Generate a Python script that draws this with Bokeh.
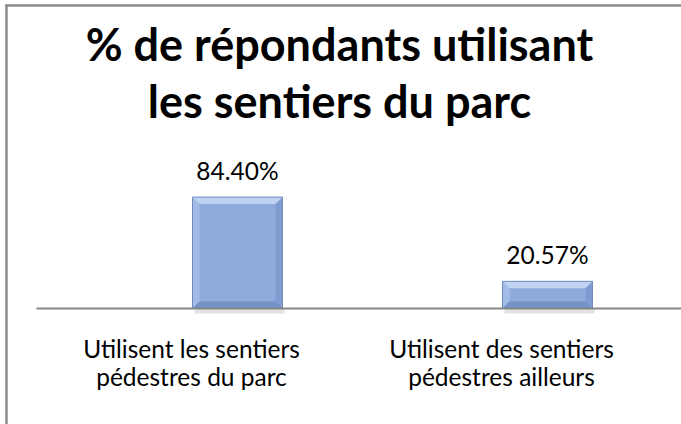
from bokeh.plotting import figure
from bokeh.models import Range1d, ColumnDataSource
from bokeh.core.properties import value
from bokeh.embed import file_html
from bokeh.resources import INLINE

# ---- data ----
title_lines = ["% de répondants utilisant", "les sentiers du parc"]
cat_line1 = ["Utilisent les sentiers", "Utilisent des sentiers"]
cat_line2 = ["pédestres du parc", "pédestres ailleurs"]
values = [84.40, 20.57]
value_labels = ["84.40%", "20.57%"]

# ---- layout (pixels) ----
W, H = 681, 424
PX_X = 310.0      # pixels per category step
PX_Y = 1.32       # pixels per percentage point
BASE_PX = 308     # baseline position from top (px)
X0_PX = 237       # first category centre from left (px)
BAR_W = 90 / PX_X
FONT = "Lato"
LBL_SIZE = 24.5
TITLE_SIZE = 45
SHIFT = 0.43      # baseline compensation (em)

x_start = -X0_PX / PX_X
x_end = x_start + W / PX_X
y_end = BASE_PX / PX_Y
y_start = -(H - BASE_PX) / PX_Y


def dx(px):
    return x_start + px / PX_X


def dy(py):
    return (BASE_PX - py) / PX_Y


p = figure(width=W, height=H, x_range=Range1d(x_start, x_end),
           y_range=Range1d(y_start, y_end), output_backend="svg",
           toolbar_location=None, min_border=0,
           x_axis_location=None, y_axis_location=None)
p.grid.visible = False
p.outline_line_color = None
p.background_fill_color = "white"
p.border_fill_color = "white"

idx = list(range(len(values)))

# frame border (top & left only, chart is cropped)
p.line([dx(6)] * 2, [dy(4), y_start], line_color="#8c8c8c", line_width=2.5)
p.line([dx(5), x_end], [dy(5)] * 2, line_color="#8c8c8c", line_width=2.5)

# shadow under bars
p.quad(left=[i - BAR_W / 2 + 2 / PX_X for i in idx], right=[i + BAR_W / 2 + 2 / PX_X for i in idx],
       top=[0] * len(idx), bottom=[-5 / PX_Y] * len(idx),
       fill_color="#d0d0d0", fill_alpha=0.6, line_color=None)

# bars with bevel
bx, by = 7 / PX_X, 7 / PX_Y
p.quad(left=[i - BAR_W / 2 for i in idx], right=[i + BAR_W / 2 for i in idx],
       top=values, bottom=[0] * len(idx), fill_color="#8FABDC", line_color=None)
tops_x, tops_y, lefts_x, lefts_y, rights_x, rights_y, bots_x, bots_y = [], [], [], [], [], [], [], []
for i, v in zip(idx, values):
    l, r = i - BAR_W / 2, i + BAR_W / 2
    tops_x.append([l, r, r - bx, l + bx]); tops_y.append([v, v, v - by, v - by])
    lefts_x.append([l, l + bx, l + bx, l]); lefts_y.append([v, v - by, by, 0])
    rights_x.append([r, r - bx, r - bx, r]); rights_y.append([v, v - by, by, 0])
    bots_x.append([l, l + bx, r - bx, r]); bots_y.append([0, by, by, 0])
p.patches(lefts_x, lefts_y, fill_color="#A3BCE7", line_color=None)
p.patches(rights_x, rights_y, fill_color="#7F9CD1", line_color=None)
p.patches(bots_x, bots_y, fill_color="#7592C7", line_color=None)
p.patches(tops_x, tops_y, fill_color="#C0D3F3", line_color=None)
p.quad(left=[i - BAR_W / 2 for i in idx], right=[i + BAR_W / 2 for i in idx],
       top=values, bottom=[0] * len(idx), fill_color=None, line_color="#6F8BBE", line_width=1)

# axis line
p.line([dx(36), x_end], [0, 0], line_color="#868686", line_width=2)

# value labels
src = ColumnDataSource(dict(x=idx, y=values, t=value_labels))
p.text(x="x", y="y", text="t", source=src, text_align="center", text_baseline="alphabetic",
       y_offset=-16 - SHIFT * LBL_SIZE, text_font=value(FONT), text_font_size=f"{LBL_SIZE}px",
       text_color="black")

# category labels
csrc = ColumnDataSource(dict(x=idx, y=[0] * len(idx), a=cat_line1, b=cat_line2))
for col, off in (("a", 51), ("b", 79)):
    p.text(x="x", y="y", text=col, source=csrc, text_align="center", text_baseline="alphabetic",
           x_offset=-46, y_offset=off - SHIFT * LBL_SIZE, text_font=value(FONT),
           text_font_size=f"{LBL_SIZE}px", text_color="black")

# title
tsrc = ColumnDataSource(dict(x=[dx(339)] * 2,
                             y=[dy(63 - SHIFT * TITLE_SIZE), dy(120 - SHIFT * TITLE_SIZE)],
                             t=title_lines))
p.text(x="x", y="y", text="t", source=tsrc, text_align="center", text_baseline="alphabetic",
       text_font=value(FONT), text_font_size=f"{TITLE_SIZE}px", text_font_style="bold",
       text_color="black")

open("out.html", "w").write(file_html(p, INLINE))
